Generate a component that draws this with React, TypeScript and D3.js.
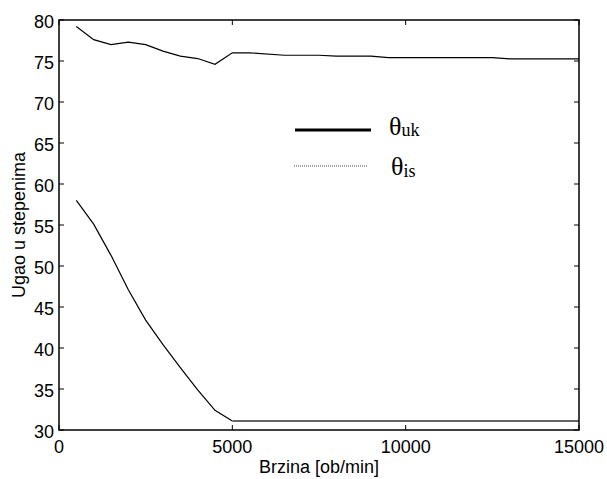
import React from "react";
import * as d3 from "d3";

// brzina [ob/min]
const speedsUk = [500, 1000, 1500, 2000, 2500, 3000, 3500, 4000, 4500, 5000, 5500, 6500, 7500, 8000, 9000, 9500, 12500, 13000, 15000];
const thetaUk = [79.2, 77.6, 77.0, 77.3, 77.0, 76.2, 75.6, 75.3, 74.6, 76.0, 76.0, 75.7, 75.7, 75.6, 75.6, 75.4, 75.4, 75.25, 75.25];

const speedsIs = [500, 1000, 1500, 2000, 2500, 3000, 3500, 4000, 4500, 5000];
const thetaIs = [58.0, 55.1, 51.3, 47.1, 43.4, 40.4, 37.6, 34.9, 32.4, 31.1];

const speedsFlat = [5000, 15000];
const thetaFlat = [31.1, 31.1];

const xTicks = [0, 5000, 10000, 15000];
const yTicks = [30, 35, 40, 45, 50, 55, 60, 65, 70, 75, 80];

const W = 607;
const H = 479;
const m = { left: 59, right: 28, top: 20, bottom: 49 };

export default function App() {
  const x = d3.scaleLinear().domain([0, 15000]).range([m.left, W - m.right]);
  const y = d3.scaleLinear().domain([30, 80]).range([H - m.bottom, m.top]);

  const line = d3
    .line<[number, number]>()
    .x((d) => x(d[0]))
    .y((d) => y(d[1]));

  const uk = line(speedsUk.map((s, i) => [s, thetaUk[i]]) as [number, number][]);
  const is = line(speedsIs.map((s, i) => [s, thetaIs[i]]) as [number, number][]);
  const flat = line(speedsFlat.map((s, i) => [s, thetaFlat[i]]) as [number, number][]);

  const x0 = x(0), x1 = x(15000), y0 = y(30), y1 = y(80);
  const tl = 5;
  const font = "Liberation Sans, Arial, Helvetica, sans-serif";
  const serif = "Liberation Serif, Times New Roman, serif";

  return (
    <svg width={W} height={H} style={{ position: "absolute", left: 0, top: 0, background: "#fff" }}>
      <rect x={0} y={0} width={W} height={H} fill="#fff" />
      {/* lines */}
      <path d={uk || ""} fill="none" stroke="#000" strokeWidth={1.2} />
      <path d={is || ""} fill="none" stroke="#000" strokeWidth={1.2} />
      <path d={flat || ""} fill="none" stroke="#666" strokeWidth={2.2} />

      {/* frame */}
      <rect x={x0} y={y1} width={x1 - x0} height={y0 - y1} fill="none" stroke="#000" strokeWidth={1.5} />

      {yTicks.map((t) => (
        <g key={"y" + t}>
          <line x1={x0} x2={x0 + tl} y1={y(t)} y2={y(t)} stroke="#000" />
          <line x1={x1} x2={x1 - tl} y1={y(t)} y2={y(t)} stroke="#000" />
          <text x={x0 - 5} y={y(t) + 7.5} textAnchor="end" fontFamily={font} fontSize={18} fill="#000">
            {t}
          </text>
        </g>
      ))}
      {xTicks.map((t) => (
        <g key={"x" + t}>
          <line x1={x(t)} x2={x(t)} y1={y0} y2={y0 - tl} stroke="#000" />
          <line x1={x(t)} x2={x(t)} y1={y1} y2={y1 + tl} stroke="#000" />
          <text x={x(t)} y={y0 + 23} textAnchor="middle" fontFamily={font} fontSize={18} fill="#000">
            {t}
          </text>
        </g>
      ))}

      <text x={(x0 + x1) / 2} y={H - 6} textAnchor="middle" fontFamily={font} fontSize={18} fill="#000">
        Brzina [ob/min]
      </text>
      <text
        transform={`translate(25,${(y0 + y1) / 2}) rotate(-90)`}
        textAnchor="middle"
        fontFamily={font}
        fontSize={18}
        fill="#000"
      >
        Ugao u stepenima
      </text>

      {/* legend */}
      <line x1={295} x2={371} y1={130} y2={130} stroke="#000" strokeWidth={3} />
      <text x={389} y={135} fontFamily={serif} fontSize={26} fill="#000">
        θ<tspan fontSize={18} dy={1}>uk</tspan>
      </text>
      <line x1={294} x2={368} y1={166} y2={166} stroke="#444" strokeWidth={1} strokeDasharray="1,1" />
      <text x={391} y={175} fontFamily={serif} fontSize={26} fill="#000">
        θ<tspan fontSize={18} dy={2}>is</tspan>
      </text>
    </svg>
  );
}
